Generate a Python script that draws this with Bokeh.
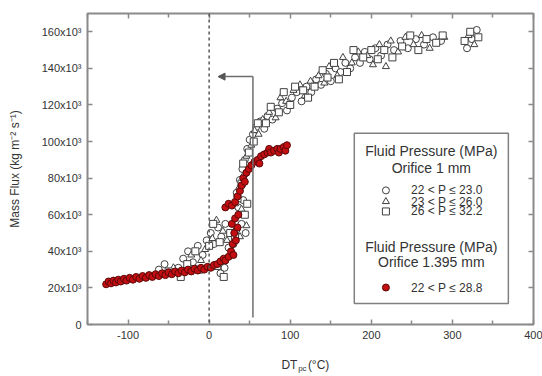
from bokeh.plotting import figure
from bokeh.models import (Range1d, FixedTicker, LinearAxis, Span, Label,
                          BoxAnnotation, Arrow, NormalHead)
from bokeh.embed import file_html
from bokeh.resources import INLINE

FONT = "Liberation Sans"
TXT = "#333333"
FRAME = "#8a8a8a"

# ---------------- data ----------------
# Orifice 1 mm, 22 < P <= 23.0  (open circles)
circ_x = [-62, -55, -48, -38, -32, -26, -20, -14, -8, -3, 2, 6, 11, 15, 20, 24, 14, 19, 30, 34, 40, 45, 36, 42,
          34, 38, 41, 44, 47, 50, 54, 58, 63,
          68, 72, 78, 84, 90, 96, 102, 108, 114, 120, 126, 132, 138, 144, 150, 156, 162, 168, 174, 180, 186,
          192, 198, 205, 212, 220, 228, 236, 245, 255, 265, 276, 286, 318, 324, 330]
circ_y = [30, 33, 28, 31, 36, 40, 34, 43, 38, 46, 50, 44, 53, 48, 55, 42, 28, 31, 44, 52, 55, 50, 64, 68,
          72, 79, 85, 90, 96, 101, 104, 108, 111,
          107, 114, 112, 118, 121, 117, 124, 127, 122, 130, 127, 134, 131, 137, 133, 140, 138, 143, 140, 146, 143,
          149, 145, 151, 147, 153, 150, 155, 151, 156, 153, 157, 155, 151, 156, 161]

# Orifice 1 mm, 23 < P <= 26.0  (open triangles)
tri_x = [-58, -44, -30, -22, -10, -5, 4, 9, 17, 22, 28, 38, 46, 40,
         32, 37, 43, 46, 52, 56, 61, 66, 74, 82, 88, 95, 104, 112, 118, 125, 135, 142, 148, 158, 165, 176,
         184, 195, 202, 210, 218, 224, 233, 242, 252, 262, 272, 290, 320, 327]
tri_y = [27, 31, 29, 38, 35, 41, 47, 57, 51, 46, 40, 48, 54, 63,
         66, 75, 82, 92, 98, 106, 104, 112, 116, 113, 124, 122, 128, 131, 125, 133, 136, 132, 141, 136, 146, 143,
         149, 147, 142, 153, 141, 155, 149, 157, 153, 158, 151, 157, 158, 153]

# Orifice 1 mm, 26 < P <= 32.2  (open squares)
sq_x = [-50, -35, -27, -17, -12, 0, 5, 13, 10, 18, 26, 32, 44, 47,
        35, 40, 42, 49, 55, 60, 70, 76, 86, 92, 100, 106, 116, 122, 130, 140, 146, 154, 160, 170, 178, 190,
        200, 208, 216, 226, 238, 248, 258, 268, 280, 288, 315, 322, 332]
sq_y = [29, 26, 33, 40, 30, 43, 55, 45, 32, 26, 50, 48, 60, 66,
        69, 77, 88, 94, 100, 110, 110, 119, 116, 127, 120, 130, 128, 124, 130, 139, 135, 143, 134, 138, 150, 146,
        150, 145, 150, 146, 152, 158, 150, 156, 154, 158, 155, 160, 157]

# Orifice 1.395 mm, 22 < P <= 28.8  (filled red circles)
red_x = [-127, -124, -121, -118, -115, -112, -109, -105, -102, -98, -94, -90, -86, -82, -78, -74, -70, -66,
         -62, -58, -54, -50, -46, -42, -38, -34, -30, -26, -22, -18, -14, -10, -6, -2, 2, 6, 10, 14, 18,
         20, 24, 27, 30, 29, 33, 31, 35, 28, 32, 36, 20, 24, 28, 32, 35, 38, 40, 42, 44, 46, 49,
         52, 56, 60, 62, 64, 68, 72, 74, 76, 80, 84, 86, 88, 92, 94, 96]
red_y = [22, 23.5, 22.5, 24, 23, 24.5, 23.5, 25, 24, 25.5, 24.5, 26, 25, 26.5, 25.5, 27, 26, 27.5,
         26.5, 28, 27, 28.5, 27.5, 29, 28, 29.5, 28.5, 30, 29, 30.5, 29.5, 31, 30, 31.5, 31, 32.5, 33, 34.5, 36,
         35, 37, 40, 38, 44, 46, 50, 53, 55, 58, 60, 64, 66, 65, 67, 70, 73, 76, 80, 78, 83, 85,
         87, 89, 90, 88, 92, 93, 94, 96, 94, 95, 96, 94, 96, 97, 95, 98]

x_ticks = [-100, 0, 100, 200, 300, 400]
x_tick_labels = ["-100", "0", "100", "200", "300", "400"]
x_minor = [-150, -50, 50, 150, 250, 350]
y_ticks = [0, 20, 40, 60, 80, 100, 120, 140, 160]
y_tick_labels = ["0", "20x10³", "40x10³", "60x10³", "80x10³", "100x10³", "120x10³", "140x10³", "160x10³"]

x_title_main = ["DT", "(°C)"]
x_title_sub = "pc"

legend_headers = ["Fluid Pressure (MPa)", "Orifice 1 mm", "Fluid Pressure (MPa)", "Orifice 1.395 mm"]
legend_items = ["22 < P ≤ 23.0", "23 < P ≤ 26.0", "26 < P ≤ 32.2", "22 < P ≤ 28.8"]

# ---------------- figure ----------------
p = figure(width=542, height=376, x_range=Range1d(-150, 400), y_range=Range1d(0, 170),
           output_backend="svg", toolbar_location=None,
           min_border_left=87, min_border_right=9, min_border_top=13, min_border_bottom=52)
p.background_fill_color = "white"
p.border_fill_color = "white"
p.grid.visible = False
p.outline_line_color = FRAME
p.outline_line_width = 2

xt = FixedTicker(ticks=x_ticks, minor_ticks=x_minor)
yt = FixedTicker(ticks=y_ticks, minor_ticks=[])

def style_axis(ax, ticker, show_labels):
    ax.ticker = ticker
    ax.axis_line_color = None
    ax.major_tick_in = 5
    ax.major_tick_out = 0
    ax.minor_tick_in = 4
    ax.minor_tick_out = 0
    ax.major_tick_line_color = FRAME
    ax.minor_tick_line_color = FRAME
    ax.major_tick_line_width = 1.5
    ax.minor_tick_line_width = 1.5
    if show_labels:
        ax.major_label_text_font = FONT
        ax.major_label_text_font_size = "11px"
        ax.major_label_text_color = TXT
        ax.major_label_standoff = 6
    else:
        ax.major_label_text_color = None
        ax.major_label_standoff = 0

style_axis(p.xaxis[0], xt, True)
style_axis(p.yaxis[0], yt, True)
p.xaxis[0].major_label_overrides = dict(zip(x_ticks, x_tick_labels))
p.yaxis[0].major_label_overrides = dict(zip(y_ticks, y_tick_labels))
p.yaxis[0].axis_label = "Mass Flux (kg m⁻² s⁻¹)"
p.yaxis[0].axis_label_text_font = FONT
p.yaxis[0].axis_label_text_font_size = "12px"
p.yaxis[0].axis_label_text_font_style = "normal"
p.yaxis[0].axis_label_text_color = TXT
p.yaxis[0].axis_label_standoff = 17

top = LinearAxis()
style_axis(top, xt, False)
p.add_layout(top, "above")
right = LinearAxis()
style_axis(right, yt, False)
p.add_layout(right, "right")

# x-axis title "DT_pc (°C)" built from two label-only axes (main text + subscript)
def title_axis(ticks, labels, size, standoff):
    ax = LinearAxis(ticker=FixedTicker(ticks=ticks, minor_ticks=[]),
                    major_label_overrides=dict(zip(ticks, labels)))
    ax.axis_line_color = None
    ax.major_tick_line_color = None
    ax.minor_tick_line_color = None
    ax.major_tick_out = 0
    ax.major_tick_in = 0
    ax.major_label_text_font = FONT
    ax.major_label_text_font_size = size
    ax.major_label_text_color = TXT
    ax.major_label_standoff = standoff
    return ax

p.add_layout(title_axis([99, 135], x_title_main, "12px", 16), "below")
p.add_layout(title_axis([115], [x_title_sub], "8px", -11), "below")

# reference lines
p.add_layout(Span(location=0, dimension="height", line_color="#555555",
                  line_width=1.5, line_dash="3 3"))
p.add_layout(Arrow(end=None, x_start=54, y_start=3.8, x_end=54, y_end=135.5,
                   line_color="#6e6e6e", line_width=1.5))
p.add_layout(Arrow(end=NormalHead(size=7, fill_color="#555555", line_color="#555555"),
                   x_start=54, y_start=135.5, x_end=11, y_end=135.5,
                   line_color="#6e6e6e", line_width=1.5))

# legend box (under the glyphs)
p.add_layout(BoxAnnotation(left=179, right=369, bottom=11.5, top=104.5, fill_color="white",
                           fill_alpha=1, line_color="#808080", line_width=1.5, line_alpha=1,
                           level="underlay"))

# data
mk = dict(size=7, line_color="#404040", line_width=1, fill_color="white")
red_mk = dict(size=7, fill_color="#c40f12", line_color="#5a0808", line_width=1)
p.scatter(circ_x, circ_y, marker="circle", **mk)
p.scatter(tri_x, tri_y, marker="triangle", **mk)
p.scatter(sq_x, sq_y, marker="square", **mk)
p.scatter(red_x, red_y, marker="circle", **red_mk)

# legend contents
for txt, yy in zip(legend_headers, [95.1, 85.3, 42.6, 33.9]):
    p.add_layout(Label(x=274, y=yy, text=txt, text_align="center", text_baseline="middle",
                       text_font=FONT, text_font_size="14px", text_color=TXT))
item_y = [73.3, 67.2, 61.8, 20.2]
for txt, yy in zip(legend_items, item_y):
    p.add_layout(Label(x=249, y=yy, text=txt, text_align="left", text_baseline="middle",
                       text_font=FONT, text_font_size="12px", text_color=TXT))
p.scatter([218], [item_y[0]], marker="circle", **mk)
p.scatter([218], [item_y[1]], marker="triangle", **mk)
p.scatter([218], [item_y[2]], marker="square", **mk)
p.scatter([218], [item_y[3]], marker="circle", **red_mk)

open("out.html", "w").write(file_html(p, INLINE))
